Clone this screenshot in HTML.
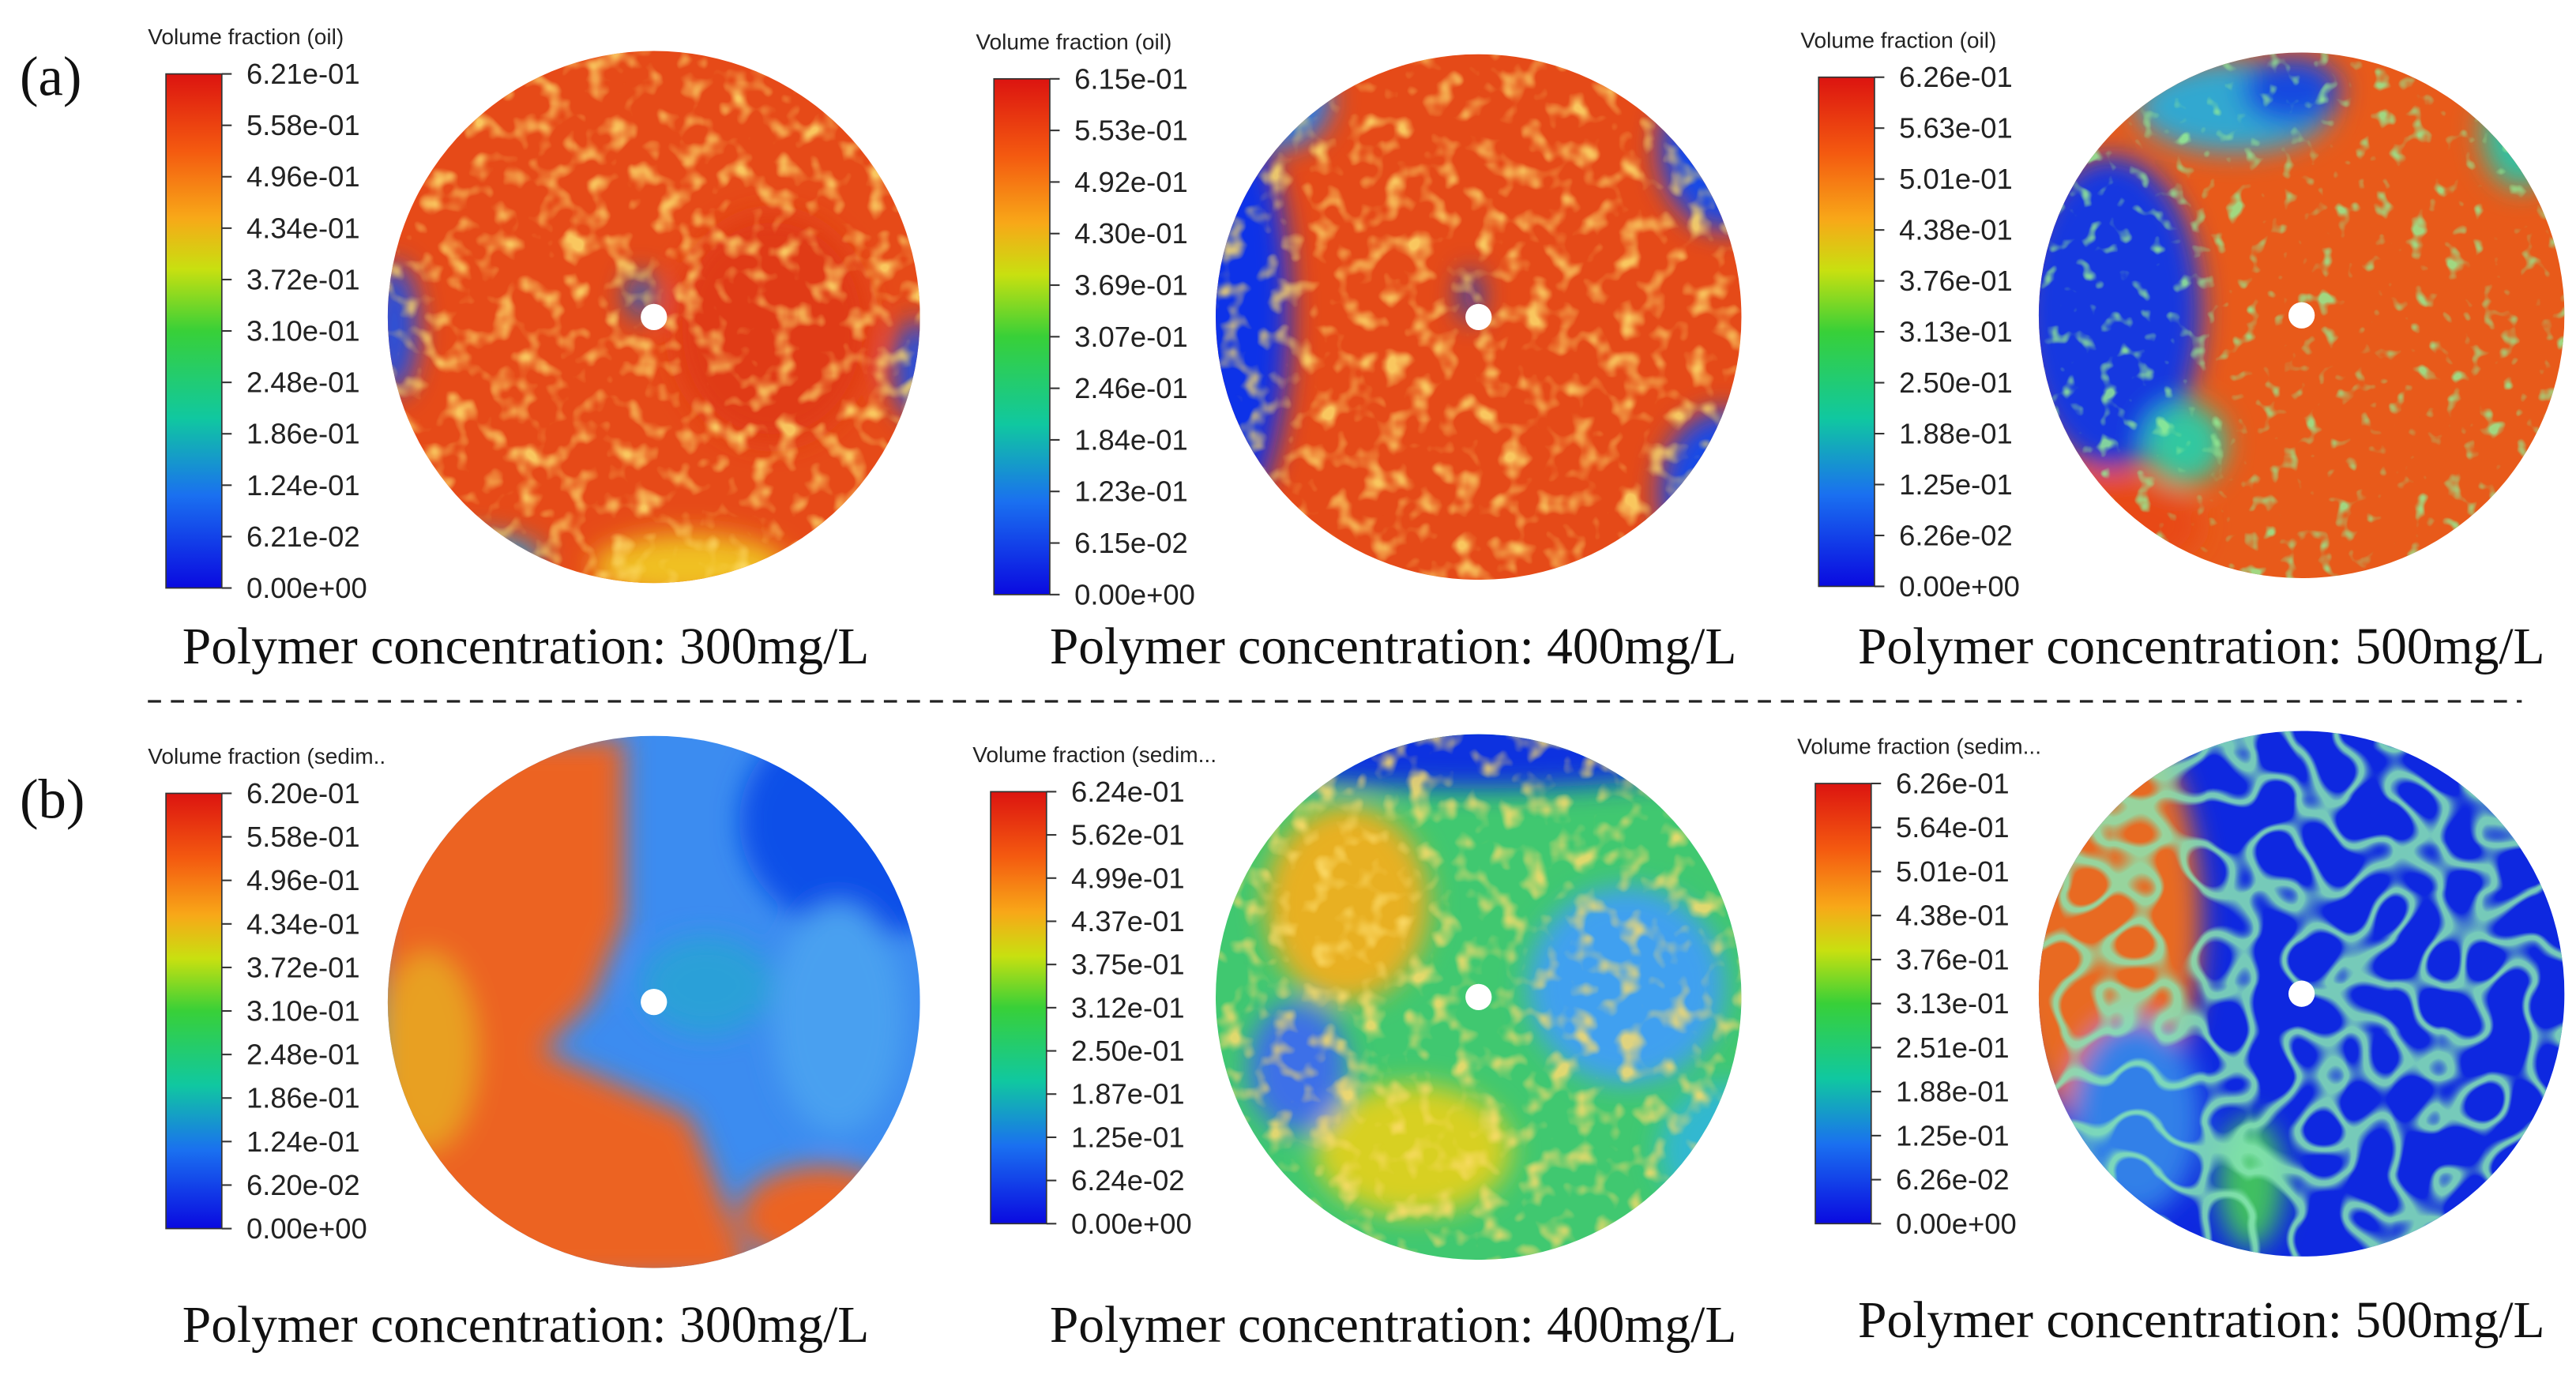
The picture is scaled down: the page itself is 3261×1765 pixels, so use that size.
<!DOCTYPE html>
<html><head><meta charset="utf-8"><style>
html,body{margin:0;padding:0;background:#fff;}
svg{display:block;}
</style></head><body>
<svg id="fig" width="3261" height="1765" viewBox="0 0 1568 848.7" xmlns="http://www.w3.org/2000/svg">
<defs>
<linearGradient id="jet" x1="0" y1="1" x2="0" y2="0">
<stop offset="0" stop-color="#0a0ae0"/><stop offset="0.18" stop-color="#1a70f0"/>
<stop offset="0.33" stop-color="#10c8a0"/><stop offset="0.5" stop-color="#38d038"/>
<stop offset="0.62" stop-color="#c8e010"/><stop offset="0.72" stop-color="#f8a818"/>
<stop offset="0.85" stop-color="#f45a10"/><stop offset="1" stop-color="#dc1410"/>
</linearGradient>
<filter id="blur8"><feGaussianBlur stdDeviation="8"/></filter>
<filter id="speck" x="0" y="0" width="1" height="1">
<feTurbulence type="fractalNoise" baseFrequency="0.07" numOctaves="2" seed="3"/>
<feColorMatrix type="matrix" values="0 0 0 0 0.98  0 0 0 0 0.72  0 0 0 0 0.15  0 0 0 -3.2 1.6"/>
<feComposite in2="SourceGraphic" operator="in"/>
</filter>
<filter id="speckg" x="0" y="0" width="1" height="1">
<feTurbulence type="fractalNoise" baseFrequency="0.09" numOctaves="2" seed="9"/>
<feColorMatrix type="matrix" values="0 0 0 0 0.3  0 0 0 0 0.85  0 0 0 0 0.3  0 0 0 -5 2.0"/>
<feComposite in2="SourceGraphic" operator="in"/>
</filter>
<filter id="net" x="0" y="0" width="1" height="1">
<feTurbulence type="turbulence" baseFrequency="0.035" numOctaves="1" seed="4"/>
<feColorMatrix type="matrix" values="0 0 0 0 0.25  0 0 0 0 0.8  0 0 0 0 0.45  0 0 0 -9 1.3"/>
<feComposite in2="SourceGraphic" operator="in"/>
</filter>
</defs>
<g id="root"></g>
</svg>
<script>
const NS='http://www.w3.org/2000/svg';
const root=document.getElementById('root');
// colorbar tick labels per panel (top to bottom)
const ticksA1=['6.21e-01','5.58e-01','4.96e-01','4.34e-01','3.72e-01','3.10e-01','2.48e-01','1.86e-01','1.24e-01','6.21e-02','0.00e+00'];
const ticksA2=['6.15e-01','5.53e-01','4.92e-01','4.30e-01','3.69e-01','3.07e-01','2.46e-01','1.84e-01','1.23e-01','6.15e-02','0.00e+00'];
const ticksA3=['6.26e-01','5.63e-01','5.01e-01','4.38e-01','3.76e-01','3.13e-01','2.50e-01','1.88e-01','1.25e-01','6.26e-02','0.00e+00'];
const ticksB1=['6.20e-01','5.58e-01','4.96e-01','4.34e-01','3.72e-01','3.10e-01','2.48e-01','1.86e-01','1.24e-01','6.20e-02','0.00e+00'];
const ticksB2=['6.24e-01','5.62e-01','4.99e-01','4.37e-01','3.75e-01','3.12e-01','2.50e-01','1.87e-01','1.25e-01','6.24e-02','0.00e+00'];
const ticksB3=['6.26e-01','5.64e-01','5.01e-01','4.38e-01','3.76e-01','3.13e-01','2.51e-01','1.88e-01','1.25e-01','6.26e-02','0.00e+00'];
const captions=['Polymer concentration: 300mg/L','Polymer concentration: 400mg/L','Polymer concentration: 500mg/L'];

function el(tag,attrs,parent){const e=document.createElementNS(NS,tag);for(const k in attrs)e.setAttribute(k,attrs[k]);(parent||root).appendChild(e);return e;}

function colorbar(x,y0,y1,title,ticks,key){
  const g=el('g',{});
  
  
  const t=el('text',{x:x-11,y:y0-18,'font-family':'Liberation Sans, sans-serif','font-size':13.5,fill:'#222'},g);
  t.textContent=title;
  
  
  el('rect',{x:x,y:y0,width:34,height:y1-y0,fill:'url(#jet)',stroke:'#333','stroke-width':0.8},g);
  const n=ticks.length;
  ticks.forEach((lab,i)=>{
    const yy=y0+(y1-y0)*i/(n-1);
    el('line',{x1:x+34,x2:x+40,y1:yy,y2:yy,stroke:'#333','stroke-width':1},g);
    const tx=el('text',{x:x+49,y:yy+6,'font-family':'Liberation Sans, sans-serif','font-size':17.5,fill:'#222'},g);
    tx.textContent=lab;
    
    
  });
}
function caption(cx,y,txt){
  const t=el('text',{x:cx,y:y,'text-anchor':'middle','font-family':'Liberation Serif, serif','font-size':31.5,fill:'#111'});
  t.textContent=txt;
  
  
}
let cid=0;
function disk(cx,cy,r,base,shapes,key,speck){
  cid++;
  const cp=el('clipPath',{id:'c'+cid});
  el('circle',{cx:cx,cy:cy,r:r},cp);
  const g=el('g',{'clip-path':'url(#c'+cid+')'});
  
  
  el('rect',{x:cx-r,y:cy-r,width:2*r,height:2*r,fill:base},g);
  const b=el('g',{filter:'url(#blur8)'},g);
  shapes.forEach(s=>{el(s[0],s[1],b);});
  if(speck){el('rect',{x:cx-r,y:cy-r,width:2*r,height:2*r,fill:'#fff',filter:'url(#'+speck+')',opacity:0.85},g);}
  const h=el('circle',{cx:cx,cy:cy,r:8,fill:'#fff'});
  
  
  return g;
}

// labels
let t=el('text',{x:12,y:58,'font-family':'Liberation Serif, serif','font-size':34,fill:'#111'});t.textContent='(a)';

t=el('text',{x:12,y:498,'font-family':'Liberation Serif, serif','font-size':34,fill:'#111'});t.textContent='(b)';

const dl=el('line',{x1:90,x2:1535,y1:427,y2:427,stroke:'#222','stroke-width':1.6,'stroke-dasharray':'8,6'});


// row a
colorbar(101,45,358,'Volume fraction (oil)',ticksA1,'a1');
colorbar(605,48,362,'Volume fraction (oil)',ticksA2,'a2');
colorbar(1107,47,357,'Volume fraction (oil)',ticksA3,'a3');
disk(398,193,162,'#e64a18',[
 ['ellipse',{cx:240,cy:200,rx:14,ry:40,fill:'#2050e0'}],['ellipse',{cx:558,cy:225,rx:14,ry:30,fill:'#2050e0'}],
 ['ellipse',{cx:290,cy:340,rx:40,ry:14,fill:'#20a0e0'}],['ellipse',{cx:420,cy:345,rx:60,ry:20,fill:'#f0c020'}],
 ['ellipse',{cx:390,cy:180,rx:8,ry:14,fill:'#1060d0'}],['ellipse',{cx:470,cy:200,rx:60,ry:70,fill:'#e03a14'}]],'a1','speck');
disk(900,193,160,'#e54a18',[
 ['ellipse',{cx:745,cy:190,rx:40,ry:130,fill:'#1030e8'}],['ellipse',{cx:1050,cy:90,rx:40,ry:50,fill:'#1848e8'}],
 ['ellipse',{cx:1050,cy:300,rx:40,ry:50,fill:'#1848e8'}],['ellipse',{cx:780,cy:60,rx:30,ry:30,fill:'#2080f0'}],
 ['ellipse',{cx:895,cy:180,rx:6,ry:16,fill:'#1040d0'}]],'a2','speck');
disk(1401,192,160,'#e85a1a',[
 ['ellipse',{cx:1285,cy:190,rx:55,ry:95,fill:'#1238e0'}],['ellipse',{cx:1360,cy:65,rx:60,ry:28,fill:'#30a8d0'}],
 ['ellipse',{cx:1395,cy:55,rx:30,ry:20,fill:'#1848e0'}],['ellipse',{cx:1280,cy:320,rx:60,ry:30,fill:'#e84818'}],
 ['ellipse',{cx:1535,cy:80,rx:25,ry:35,fill:'#30c0a0'}],['ellipse',{cx:1330,cy:270,rx:25,ry:25,fill:'#30c8a0'}]],'a3','speckg');
caption(320,404,captions[0]);caption(848,404,captions[1]);caption(1340,404,captions[2]);

// row b
colorbar(101,483,748,'Volume fraction (sedim..',ticksB1,'b1');
colorbar(603,482,745,'Volume fraction (sedim...',ticksB2,'b2');
colorbar(1105,477,745,'Volume fraction (sedim...',ticksB3,'b3');
disk(398,610,162,'#3c8cf0',[
 ['polygon',{points:'230,450 380,450 380,560 360,610 330,640 420,680 460,780 230,780',fill:'#ec6424'}],
 ['ellipse',{cx:530,cy:500,rx:80,ry:70,fill:'#1050e8'}],['ellipse',{cx:510,cy:620,rx:40,ry:70,fill:'#4aa0f0'}],
 ['ellipse',{cx:260,cy:640,rx:30,ry:60,fill:'#e8a020'}],['ellipse',{cx:500,cy:740,rx:50,ry:30,fill:'#ec6424'}],
 ['ellipse',{cx:430,cy:600,rx:40,ry:30,fill:'#2aa0d8'}]],'b1');
disk(900,607,160,'#40c870',[
 ['ellipse',{cx:900,cy:455,rx:170,ry:25,fill:'#1030e0'}],['ellipse',{cx:990,cy:600,rx:60,ry:60,fill:'#40a0f0'}],
 ['ellipse',{cx:820,cy:550,rx:50,ry:60,fill:'#e8b020'}],['ellipse',{cx:860,cy:700,rx:60,ry:40,fill:'#d8d020'}],
 ['ellipse',{cx:790,cy:650,rx:30,ry:40,fill:'#3c70e8'}],['ellipse',{cx:1050,cy:700,rx:40,ry:40,fill:'#30b8d0'}]],'b2','speck');
const b3=disk(1401,605,160,'#0e28e0',[
 ['ellipse',{cx:1280,cy:560,rx:60,ry:130,fill:'#e86a20'}],['ellipse',{cx:1300,cy:680,rx:40,ry:60,fill:'#3080e8'}],
 ['ellipse',{cx:1370,cy:720,rx:20,ry:40,fill:'#40c060'}]],'b3','net');
caption(320,817,captions[0]);caption(848,817,captions[1]);caption(1340,814,captions[2]);
</script>
</body></html>
